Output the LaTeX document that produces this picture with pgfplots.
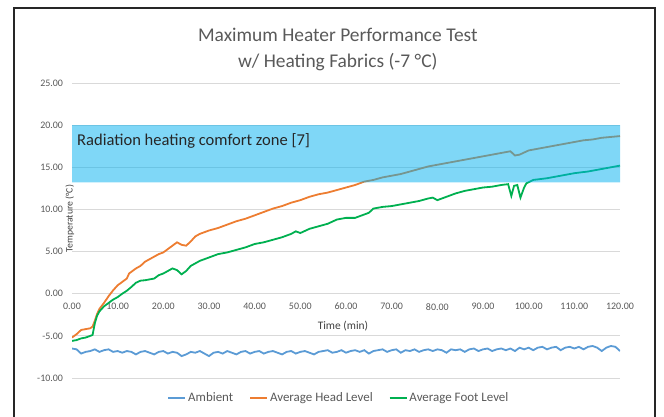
\documentclass[border=0pt]{standalone}
\usepackage{pgfplots}
\pgfplotsset{compat=1.18}
\usepackage{fontspec}
\setmainfont{Carlito}
\definecolor{txtgray}{RGB}{89,89,89}
\definecolor{gridgray}{RGB}{217,217,217}
\definecolor{ambient}{RGB}{91,155,213}
\definecolor{head}{RGB}{237,125,49}
\definecolor{foot}{RGB}{0,176,80}
\definecolor{zone}{RGB}{0,176,240}
\begin{document}
\begin{tikzpicture}[x=1bp,y=1bp]
\path[use as bounding box] (0,0) rectangle (664,416);
\draw[black!85, line width=2bp] (14,-10) -- (14,408) -- (655,408) -- (655,-10);
\begin{axis}[
  at={(72bp,38bp)}, anchor=south west,
  scale only axis, width=548bp, height=295bp,
  xmin=0, xmax=120, ymin=-10, ymax=25,
  xtick={0,10,...,120}, ytick={-10,-5,...,25},
  axis x line*=middle, axis y line*=left,
  x axis line style={-, draw=gridgray, line width=0.9bp},
  y axis line style={draw=none},
  hide obscured x ticks=false, hide obscured y ticks=false,
  major tick length=0pt,
  ymajorgrids, grid style={gridgray, line width=0.8bp},
  /pgf/number format/assume math mode=true,
  xticklabel style={/pgf/number format/.cd, fixed, fixed zerofill, precision=2, /tikz/.cd, yshift=-6bp},
  yticklabel style={/pgf/number format/.cd, fixed, fixed zerofill, precision=2, /tikz/.cd, xshift=-5.5bp},
  tick label style={font=\fontsize{10}{12}\selectfont, text=txtgray},
  xlabel={Time (min)},
  x label style={at={(axis description cs:0.4945,0.2857)}, anchor=center, yshift=-32bp, font=\fontsize{11.5}{13}\selectfont, text=black!75},
  ylabel={Temperature (°C)},
  y label style={at={(axis description cs:-0.004,0.54)}, anchor=center, rotate=0, font=\fontsize{9.8}{11}\selectfont, text=black!75},
  title={Maximum Heater Performance Test\\w/ Heating Fabrics (-7 °C)},
  title style={at={(axis description cs:0.485,1.092)}, anchor=center, align=center, font=\fontsize{19.5}{26}\selectfont, text=txtgray},
  legend columns=3,
  legend style={at={(axis description cs:0.487,-0.068)}, anchor=center, draw=none, fill=none,
    font=\fontsize{13}{15}\selectfont, text=txtgray,
    /tikz/every even column/.append style={column sep=14bp},
    inner sep=0pt},
  legend image code/.code={\draw[#1, line width=1.8bp] (0bp,0bp) -- (17bp,0bp);},
  legend cell align=left,
]
\addplot[ambient, line width=1.8bp] coordinates {
(0,-6.5) (1,-6.6) (2,-7.1) (3,-6.9) (4,-6.8) (5,-6.6) (6,-6.9) (7,-6.7) (8,-6.6) (9,-6.9)
(10,-6.8) (11,-7.0) (12,-6.8) (13,-6.9) (14,-7.2) (15,-6.9) (16,-6.8) (17,-7.0) (18,-7.2) (19,-6.9)
(20,-6.8) (21,-7.1) (22,-6.9) (23,-7.0) (24,-7.4) (25,-7.2) (26,-6.9) (27,-7.0) (28,-6.8) (29,-7.1)
(30,-7.4) (31,-7.0) (32,-6.9) (33,-7.1) (34,-6.8) (35,-7.0) (36,-7.2) (37,-6.9) (38,-6.8) (39,-7.1)
(40,-6.9) (41,-6.8) (42,-7.1) (43,-6.9) (44,-6.8) (45,-7.0) (46,-7.2) (47,-6.9) (48,-6.8) (49,-7.1)
(50,-6.9) (51,-6.8) (52,-7.0) (53,-7.2) (54,-6.9) (55,-6.8) (56,-6.7) (57,-7.0) (58,-6.9) (59,-6.7)
(60,-7.0) (61,-6.8) (62,-6.7) (63,-6.9) (64,-6.7) (65,-7.1) (66,-6.8) (67,-6.7) (68,-6.6) (69,-6.9)
(70,-6.7) (71,-6.6) (72,-7.0) (73,-6.7) (74,-6.8) (75,-6.6) (76,-6.9) (77,-6.7) (78,-6.6) (79,-6.8)
(80,-6.6) (81,-6.7) (82,-7.0) (83,-6.6) (84,-6.7) (85,-6.6) (86,-6.9) (87,-6.6) (88,-6.5) (89,-6.8)
(90,-6.6) (91,-6.5) (92,-6.8) (93,-6.6) (94,-6.5) (95,-6.7) (96,-6.5) (97,-6.8) (98,-6.4) (99,-6.6)
(100,-6.4) (101,-6.7) (102,-6.4) (103,-6.3) (104,-6.6) (105,-6.4) (106,-6.3) (107,-6.7) (108,-6.4) (109,-6.3)
(110,-6.5) (111,-6.3) (112,-6.6) (113,-6.3) (114,-6.2) (115,-6.4) (116,-6.8) (117,-6.4) (118,-6.2) (119,-6.3)
(120,-6.8)
};
\addlegendentry{Ambient}
\addplot[head, line width=1.8bp] coordinates {
(0,-5.2) (1,-4.8) (2,-4.3) (3,-4.2) (4,-4.1) (4.5,-3.9) (5,-3.2) (5.5,-2.4) (6,-1.8) (7,-1.1)
(8,-0.3) (9,0.4) (10,1.0) (11,1.4) (12,1.8) (12.5,2.4) (13,2.6) (14,3.0) (15,3.3) (16,3.8)
(17,4.1) (18,4.4) (19,4.7) (20,4.9) (21,5.3) (22,5.7) (23,6.1) (24,5.8) (25,5.7) (26,6.2)
(27,6.8) (28,7.1) (29,7.3) (30,7.5) (32,7.8) (34,8.2) (36,8.6) (38,8.9) (40,9.3) (42,9.7)
(44,10.1) (46,10.4) (48,10.8) (50,11.1) (52,11.5) (54,11.8) (56,12.0) (58,12.3) (60,12.6) (62,12.9)
(64,13.3) (66,13.5) (68,13.8) (70,14.0) (72,14.2) (74,14.5) (76,14.8) (78,15.1) (80,15.3) (82,15.5)
(84,15.7) (86,15.9) (88,16.1) (90,16.3) (92,16.5) (94,16.7) (96,16.9) (97,16.4) (98,16.5) (100,17.0)
(102,17.2) (104,17.4) (106,17.6) (108,17.8) (110,18.0) (112,18.2) (114,18.3) (116,18.5) (118,18.6) (120,18.7)
};
\addlegendentry{Average Head Level}
\addplot[foot, line width=1.8bp] coordinates {
(0,-5.6) (1,-5.5) (2,-5.3) (3,-5.2) (4,-5.0) (4.5,-4.9) (5,-3.5) (5.5,-2.6) (6,-2.1) (7,-1.5)
(8,-1.1) (9,-0.7) (10,-0.4) (11,0.0) (12,0.35) (13,0.8) (14,1.3) (15,1.55) (16,1.6) (17,1.7)
(18,1.8) (19,2.2) (20,2.4) (21,2.7) (22,3.0) (23,2.8) (24,2.3) (25,2.7) (26,3.3) (27,3.6)
(28,3.9) (30,4.3) (32,4.7) (34,4.9) (36,5.2) (38,5.5) (40,5.9) (42,6.1) (44,6.4) (46,6.7)
(48,7.1) (49,7.4) (50,7.2) (52,7.7) (54,8.0) (56,8.3) (58,8.8) (60,9.0) (62,9.0) (64,9.4)
(65,9.6) (66,10.1) (68,10.3) (70,10.4) (72,10.6) (74,10.8) (76,11.0) (78,11.3) (79,11.4) (80,11.1)
(82,11.5) (84,11.9) (86,12.2) (88,12.4) (90,12.6) (92,12.7) (94,12.9) (95.5,13.0) (96.2,11.6) (96.8,12.8)
(97.5,12.9) (98.2,11.4) (99,12.6) (99.5,13.1) (101,13.5) (104,13.7) (107,14.0) (110,14.3) (113,14.5) (116,14.8)
(118,15.0) (120,15.2)
};
\addlegendentry{Average Foot Level}
\addplot[draw=none, fill=zone, fill opacity=0.5, forget plot] coordinates {
(0,13.2) (0,20) (120,20) (120,13.2) (0,13.2)
};
\node[anchor=west, inner sep=0pt, text=black!85, font=\fontsize{16.6}{19}\selectfont] at (axis cs:1.1,18.15) {Radiation heating comfort zone [7]};
\end{axis}
\end{tikzpicture}
\end{document}
